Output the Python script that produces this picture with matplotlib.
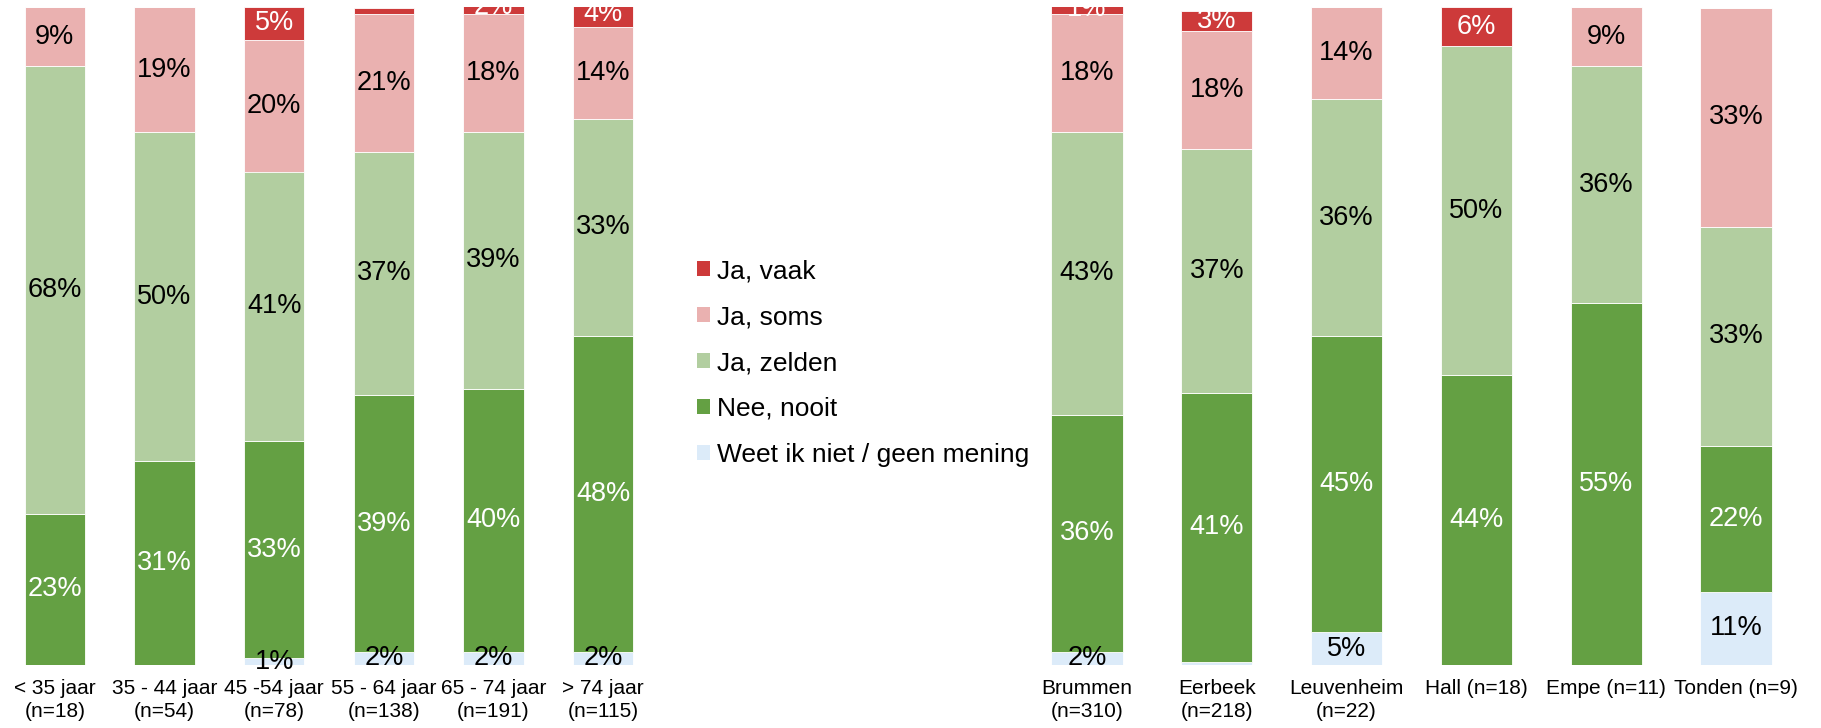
import matplotlib
matplotlib.use("Agg")
import matplotlib.pyplot as plt
from matplotlib.patches import Patch, Rectangle
import numpy as np

series = ["Weet ik niet / geen mening", "Nee, nooit", "Ja, zelden", "Ja, soms", "Ja, vaak"]
colors = ["#DCEBF9", "#64A043", "#B2CEA0", "#EAB1B0", "#CD3A3A"]
text_colors = ["black", "white", "black", "black", "white"]

age_labels = ["< 35 jaar\n(n=18)", "35 - 44 jaar\n(n=54)", "45 -54 jaar\n(n=78)",
              "55 - 64 jaar\n(n=138)", "65 - 74 jaar\n(n=191)", "> 74 jaar\n(n=115)"]
age_weet = [0, 0, 1, 2, 2, 2]
age_nooit = [23, 31, 33, 39, 40, 48]
age_zelden = [68, 50, 41, 37, 39, 33]
age_soms = [9, 19, 20, 21, 18, 14]
age_vaak = [0, 0, 5, 0.9, 2, 4]

place_labels = ["Brummen\n(n=310)", "Eerbeek\n(n=218)", "Leuvenheim\n(n=22)",
                "Hall (n=18)", "Empe (n=11)", "Tonden (n=9)"]
place_weet = [2, 0.4, 5, 0, 0, 11.1]
place_nooit = [36, 41, 45, 44, 55, 22.2]
place_zelden = [43, 37, 36, 50, 36, 33.3]
place_soms = [18, 18, 14, 0, 9, 33.3]
place_vaak = [1.4, 3, 0, 6, 0, 0]

plt.rcParams["font.family"] = ["Liberation Sans", "DejaVu Sans"]

W, H = 1821, 728
fig = plt.figure(figsize=(W / 100, H / 100), dpi=100)

def make_axes(left_px, right_px):
    top_px, bot_px = 7, 665
    return fig.add_axes([left_px / W, 1 - bot_px / H, (right_px - left_px) / W, (bot_px - top_px) / H])

def draw(ax, labels, data):
    x = np.arange(len(labels))
    bottom = np.zeros(len(labels))
    clip = Rectangle((0, -0.1), 1, 1.1, transform=ax.transAxes, visible=False)
    ax.add_patch(clip)
    for vals, col, tc in zip(data, colors, text_colors):
        vals = np.array(vals, dtype=float)
        ax.bar(x, vals, bottom=bottom, width=0.55, color=col, edgecolor="white", linewidth=0.6)
        for xi, v, b in zip(x, vals, bottom):
            if v >= 1:
                t = ax.text(xi, b + v / 2, f"{v:.0f}%", ha="center", va="center",
                            color=tc, fontsize=19.5)
                t.set_clip_path(clip)
        bottom += vals
    ax.set_xlim(-0.5, len(labels) - 0.5)
    ax.set_ylim(0, 100)
    ax.set_xticks(x)
    ax.set_xticklabels(labels, fontsize=15, linespacing=1.3)
    ax.tick_params(axis="x", length=0, pad=10)
    ax.set_yticks([])
    for s in ax.spines.values():
        s.set_visible(False)

ax1 = make_axes(0, 658)
draw(ax1, age_labels, [age_weet, age_nooit, age_zelden, age_soms, age_vaak])
ax2 = make_axes(1022, 1801)
draw(ax2, place_labels, [place_weet, place_nooit, place_zelden, place_soms, place_vaak])

handles = [Patch(facecolor=c, edgecolor="none") for c in colors][::-1]
fig.legend(handles, series[::-1], loc="center left", bbox_to_anchor=(697 / W, 1 - 363 / H),
           frameon=False, fontsize=19, handlelength=0.5, handleheight=0.5,
           handletextpad=0.27, labelspacing=0.83, borderpad=0, borderaxespad=0)

fig.savefig("out.png", dpi=100)
